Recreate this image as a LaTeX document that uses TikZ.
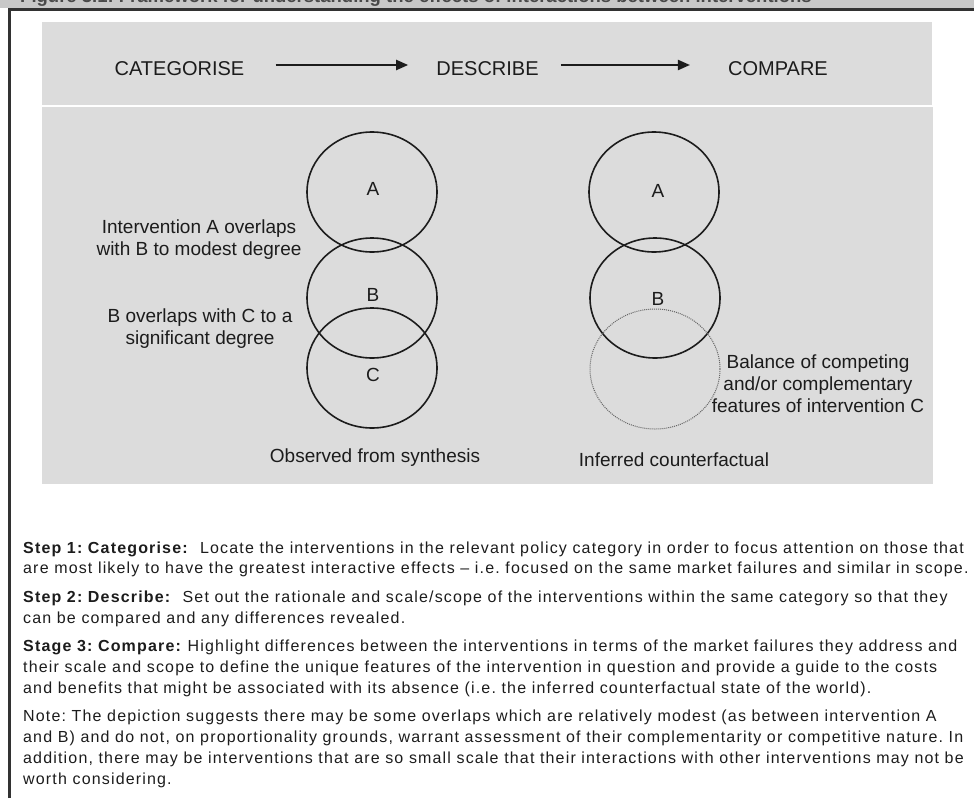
\documentclass[tikz,border=0pt]{standalone}
\usepackage{fontspec}
\setmainfont{Liberation Sans}
\newfontfamily\notefont[LetterSpace=7.3]{Liberation Sans}
\usetikzlibrary{shapes.geometric,arrows.meta}
\frenchspacing

\definecolor{panelgray}{RGB}{220,220,220}
\definecolor{stripgray}{RGB}{200,200,200}
\definecolor{ink}{RGB}{28,28,28}
\definecolor{framegray}{RGB}{50,50,50}

\begin{document}
\begin{tikzpicture}[x=1pt,y=-1pt,
  panel/.style={fill=panelgray,draw=none},
  stagelabel/.style={font=\fontsize{20}{24}\selectfont,text=ink,inner sep=0pt,
    text height=20.5pt,text depth=0pt},
  flow/.style={-{Triangle[length=12pt,width=10pt]},line width=2pt,draw=ink},
  ring/.style={ellipse,draw=ink,line width=1.6pt,minimum width=130pt,
    minimum height=120pt,inner sep=0pt},
  ghostring/.style={ellipse,draw=black!60,line width=1pt,
    dash pattern=on 1pt off 1pt,minimum width=130pt,minimum height=120pt,inner sep=0pt},
  letter/.style={font=\fontsize{19}{22}\selectfont,text=ink,inner sep=0pt},
  remark/.style={font=\fontsize{19}{22}\selectfont,text=ink,align=center,inner sep=0pt},
  noteline/.style={anchor=base west,inner sep=0pt,
    font=\notefont\fontsize{16}{20}\selectfont\frenchspacing,text=ink},
]
\useasboundingbox (0,0) rectangle (974,798);

% caption strip along the top edge, mostly cut off
\begin{scope}
  \clip (0,0) rectangle (974,8);
  \fill[stripgray] (0,0) rectangle (974,8);
  \node[anchor=base west,inner sep=0pt,font=\bfseries\fontsize{18.5}{20}\selectfont,text=ink!80]
    (caption) at (20,2)
    {Figure 3.1: Framework for understanding the effects of interactions between interventions};
\end{scope}

% outer frame (top and left edges)
\draw[framegray,line width=2.4pt] (9.5,798) -- (9.5,9.5) -- (974,9.5);

% the two grey panels
\fill[panel] (42,22) rectangle (932,105);
\fill[panel] (42,107) rectangle (933,484);

% process row
\node[stagelabel] (cat)  at (179.5,65) {CATEGORISE};
\node[stagelabel] (desc) at (487.5,65) {DESCRIBE};
\node[stagelabel] (comp) at (778,65)   {COMPARE};
\draw[flow,shorten <=31pt,shorten >=28pt] (cat) -- (desc);
\draw[flow,shorten <=22pt,shorten >=38pt] (desc) -- (comp);

% observed interventions
\node[ring] (oa) at (372,192) {};
\node[ring] (ob) at (372,298) {};
\node[ring] (oc) at (372,368) {};
\node[letter] (oalab) at (373,189) {A};
\node[letter] (oblab) at (373,295) {B};
\node[letter] (oclab) at (373,375) {C};

% counterfactual: C removed
\node[ring] (ca) at (654,192) {};
\node[ring] (cb) at (655,298) {};
\node[ghostring] (cc) at (655,369) {};
\node[letter] (calab) at (658,191) {A};
\node[letter] (cblab) at (658,299) {B};

% annotations
\node[remark] (ovab) at (199,240) {Intervention A overlaps\\with B to modest degree};
\node[remark] (ovbc) at (200,329) {B overlaps with C to a\\significant degree};
\node[remark] (bal)  at (818,384) {Balance of competing\\and/or complementary\\features of intervention C};
\node[remark] (obs)  at (375,458) {Observed from synthesis};
\node[remark] (inf)  at (674,460) {Inferred counterfactual};

% explanatory notes
\node[noteline] (s1a) at (23,553) {\textbf{Step 1: Categorise:}\ \ Locate the interventions in the relevant policy category in order to focus attention on those that};
\node[noteline] (s1b) at (23,573.8) {are most likely to have the greatest interactive effects – i.e. focused on the same market failures and similar in scope.};
\node[noteline] (s2a) at (23,602.3) {\textbf{Step 2: Describe:}\ \ Set out the rationale and scale/scope of the interventions within the same category so that they};
\node[noteline] (s2b) at (23,623.1) {can be compared and any differences revealed.};
\node[noteline] (s3a) at (23,651.6) {\textbf{Stage 3: Compare:} Highlight differences between the interventions in terms of the market failures they address and};
\node[noteline] (s3b) at (23,672.4) {their scale and scope to define the unique features of the intervention in question and provide a guide to the costs};
\node[noteline] (s3c) at (23,693.2) {and benefits that might be associated with its absence (i.e. the inferred counterfactual state of the world).};
\node[noteline] (n1) at (23,721.7) {Note: The depiction suggests there may be some overlaps which are relatively modest (as between intervention A};
\node[noteline] (n2) at (23,742.5) {and B) and do not, on proportionality grounds, warrant assessment of their complementarity or competitive nature. In};
\node[noteline] (n3) at (23,763.3) {addition, there may be interventions that are so small scale that their interactions with other interventions may not be};
\node[noteline] (n4) at (23,784.1) {worth considering.};
\end{tikzpicture}
\end{document}
